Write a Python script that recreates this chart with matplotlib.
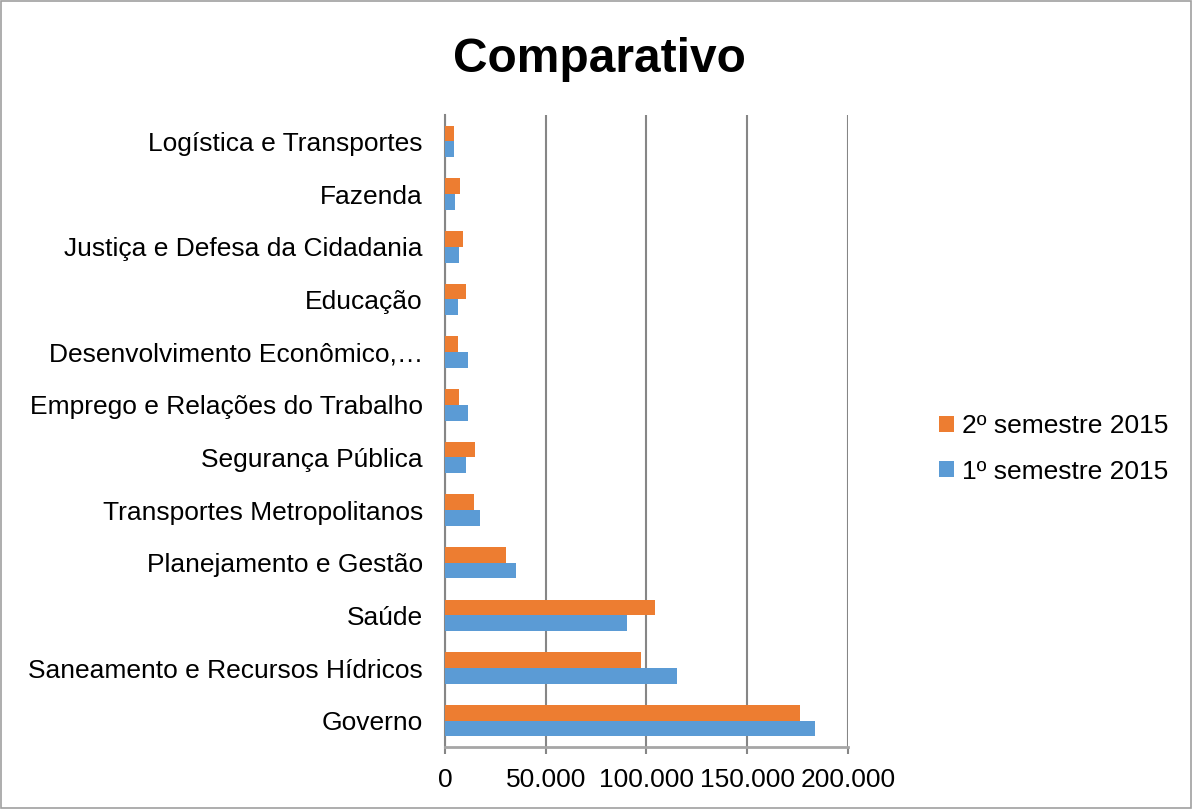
import numpy as np
import matplotlib.pyplot as plt
from matplotlib.patches import Rectangle

plt.rcParams['font.family'] = ['Liberation Sans', 'DejaVu Sans']

# categorias (de baixo para cima)
categorias = ["Governo", "Saneamento e Recursos Hídricos", "Saúde",
              "Planejamento e Gestão", "Transportes Metropolitanos",
              "Segurança Pública", "Emprego e Relações do Trabalho",
              "Desenvolvimento Econômico,…", "Educação",
              "Justiça e Defesa da Cidadania", "Fazenda",
              "Logística e Transportes"]
sem1 = [183800, 115200, 90300, 35100, 17200, 10200, 11200, 11200, 6700, 7200, 5200, 4700]
sem2 = [176400, 97300, 104200, 30100, 14200, 14700, 7200, 6700, 10200, 8700, 7700, 4700]
xticks = [0, 50000, 100000, 150000, 200000]
xtick_labels = ["0", "50.000", "100.000", "150.000", "200.000"]

fig = plt.figure(figsize=(11.92, 8.09), dpi=100)
ax = fig.add_axes([0.3733, 0.0766, 0.3381, 0.7812])

y = np.arange(len(categorias))
h = 0.3
b2 = ax.barh(y + h / 2, sem2, height=h, color="#ED7D31", label="2º semestre 2015", zorder=3)
b1 = ax.barh(y - h / 2, sem1, height=h, color="#5B9BD5", label="1º semestre 2015", zorder=3)

ax.set_xlim(0, 200000)
ax.set_ylim(-0.5, len(categorias) - 0.5)
ax.set_xticks(xticks)
ax.set_xticklabels(xtick_labels, fontsize=19)
ax.set_yticks(y)
ax.set_yticklabels(categorias, fontsize=19)
ax.tick_params(axis='y', length=0, pad=16)
ax.tick_params(axis='x', length=5, color="#868686", width=1.5, pad=10)

ax.grid(axis='x', color="#868686", linewidth=1.5, zorder=0)
for s in ['top', 'right']:
    ax.spines[s].set_visible(False)
ax.spines['left'].set_color("#868686")
ax.spines['left'].set_linewidth(1.5)
ax.spines['bottom'].set_color("#A6A6A6")
ax.spines['bottom'].set_linewidth(2)

fig.text(0.503, 0.926, "Comparativo", ha='center', va='center', fontsize=34.5, fontweight='bold')

fig.legend(handles=[b2, b1], loc='center left', bbox_to_anchor=(0.768, 0.445),
           frameon=False, fontsize=19, handlelength=0.55, handleheight=0.55,
           handletextpad=0.3, labelspacing=0.8)

fig.patches.append(Rectangle((0.001, 0.001), 0.998, 0.998, transform=fig.transFigure,
                             fill=False, edgecolor="#A0A0A0", linewidth=1.2))

fig.savefig("out.png", dpi=100)
